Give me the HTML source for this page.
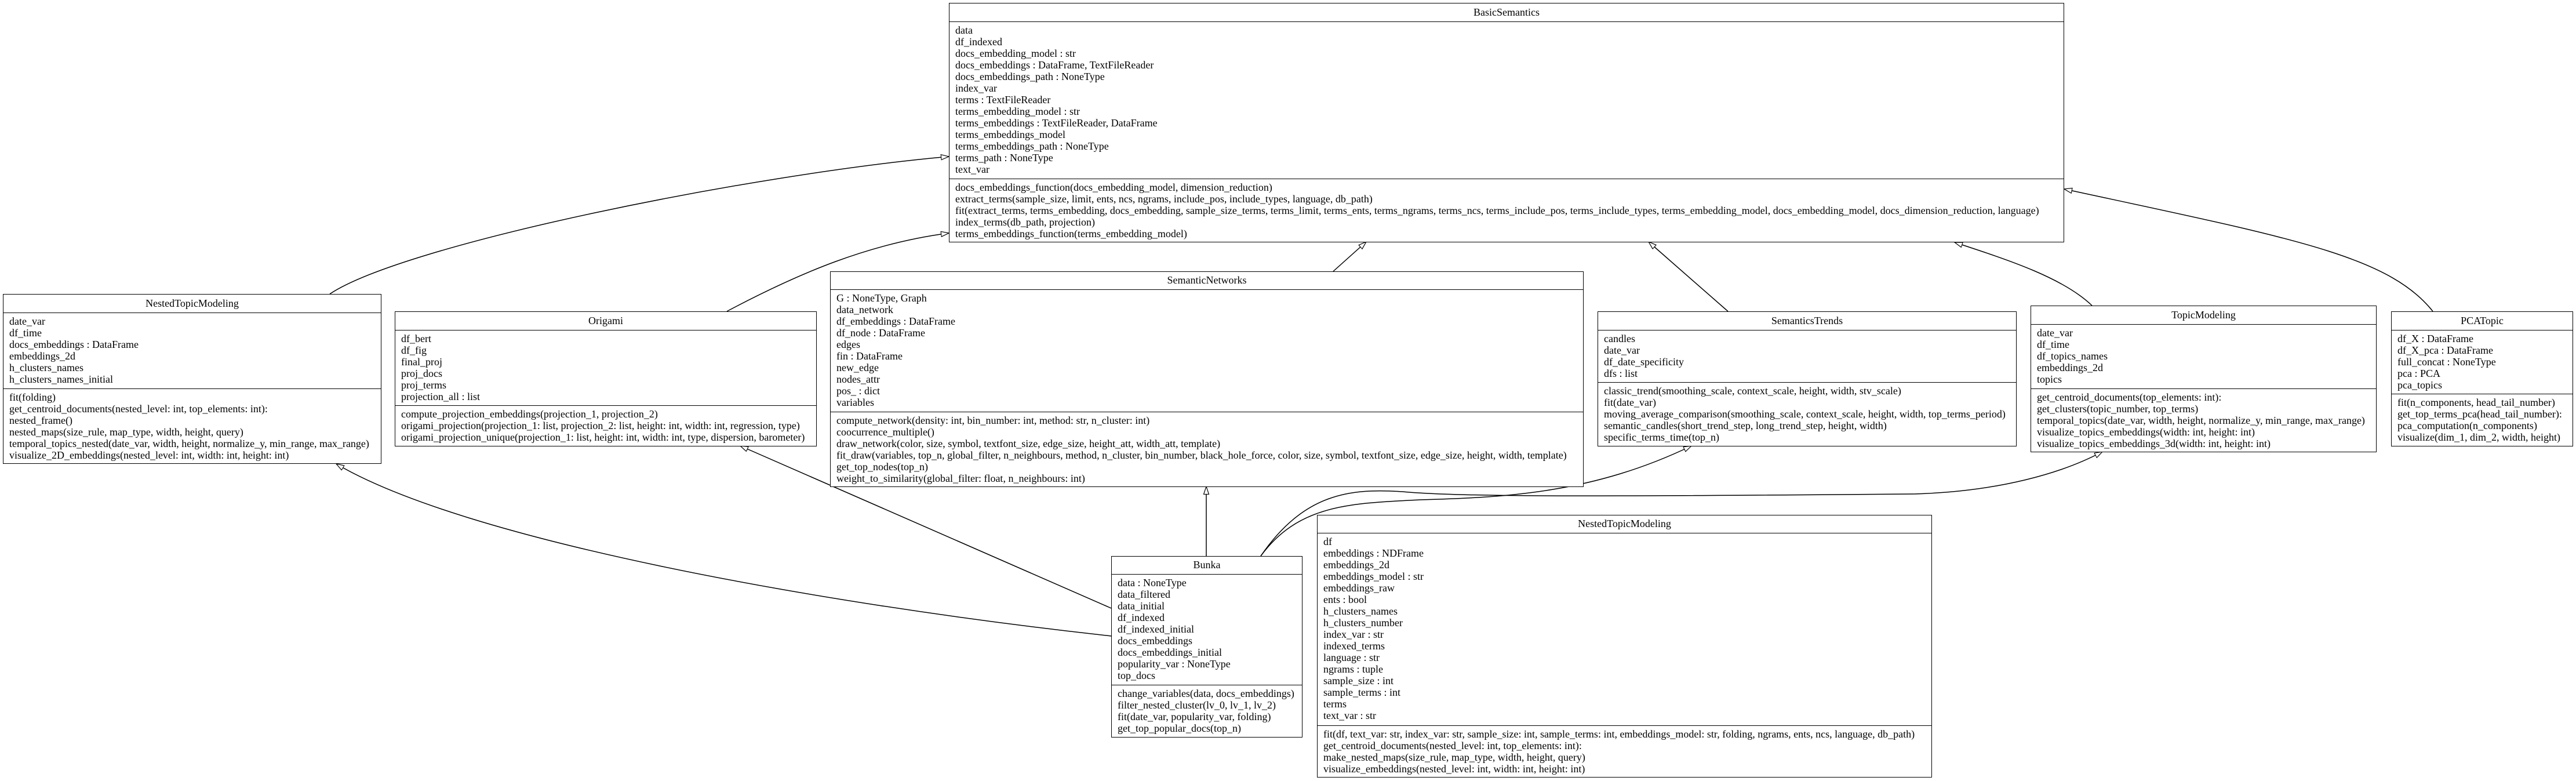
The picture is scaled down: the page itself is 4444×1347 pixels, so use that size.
<!DOCTYPE html>
<html><head><meta charset="utf-8"><style>
html,body{margin:0;padding:0;background:#fff;}
body{width:4444px;height:1347px;position:relative;overflow:hidden;font-family:"Liberation Serif","Times New Roman",serif;font-size:18px;color:#000;}
svg{position:absolute;left:0;top:0;}
.b{position:absolute;border:1.3px solid #000;background:#fff;box-sizing:border-box;}
.h{position:absolute;left:0;right:0;top:0;text-align:center;border-bottom:1.3px solid #000;box-sizing:border-box;}
.a,.m{position:absolute;left:0;right:0;padding:4px 0 0 10px;line-height:20px;white-space:nowrap;box-sizing:border-box;}
.a{border-bottom:1.3px solid #000;}
</style></head><body>
<svg width="4444" height="1347" viewBox="0 0 4444 1347">
<defs><marker id="t" markerUnits="userSpaceOnUse" markerWidth="16" markerHeight="12" refX="14" refY="5" orient="auto"><path d="M0.5,0.5 L14,5 L0.5,9.5 Z" fill="#fff" stroke="#000" stroke-width="1.2"/></marker></defs>
<g fill="none" stroke="#000" stroke-width="1.5">
<path d="M569,507 C700,420 1300,300 1637,270" marker-end="url(#t)"/>
<path d="M1254,537 C1380,470 1500,420 1637,402" marker-end="url(#t)"/>
<path d="M2300,468 L2357,417" marker-end="url(#t)"/>
<path d="M2981,537 L2844,417" marker-end="url(#t)"/>
<path d="M3609,527 C3560,480 3470,450 3372,418" marker-end="url(#t)"/>
<path d="M4197,537 C4120,440 3950,410 3561,326" marker-end="url(#t)"/>
<path d="M2081,959 L2081,839" marker-end="url(#t)"/>
<path d="M1917,1049 L1277,769" marker-end="url(#t)"/>
<path d="M1917,1097 C1400,1040 800,930 580,800" marker-end="url(#t)"/>
<path d="M2175,959 C2240,870 2330,868 2450,862 C2600,858 2750,850 2918,769" marker-end="url(#t)"/>
<path d="M2175,959 C2250,850 2330,842 2420,848 C2520,858 2800,856 3300,852 C3450,848 3560,815 3627,779" marker-end="url(#t)"/>
</g></svg>

<div class="b" style="left:1637px;top:5px;width:1924px;height:413px">
<div class="h" style="height:32px;line-height:30px">BasicSemantics</div>
<div class="a" style="top:32px;height:271px">data<br>df_indexed<br>docs_embedding_model : str<br>docs_embeddings : DataFrame, TextFileReader<br>docs_embeddings_path : NoneType<br>index_var<br>terms : TextFileReader<br>terms_embedding_model : str<br>terms_embeddings : TextFileReader, DataFrame<br>terms_embeddings_model<br>terms_embeddings_path : NoneType<br>terms_path : NoneType<br>text_var</div>
<div class="m" style="top:303px;bottom:0">docs_embeddings_function(docs_embedding_model, dimension_reduction)<br>extract_terms(sample_size, limit, ents, ncs, ngrams, include_pos, include_types, language, db_path)<br>fit(extract_terms, terms_embedding, docs_embedding, sample_size_terms, terms_limit, terms_ents, terms_ngrams, terms_ncs, terms_include_pos, terms_include_types, terms_embedding_model, docs_embedding_model, docs_dimension_reduction, language)<br>index_terms(db_path, projection)<br>terms_embeddings_function(terms_embedding_model)</div>
</div>

<div class="b" style="left:5px;top:507px;width:653px;height:293px">
<div class="h" style="height:32px;line-height:30px">NestedTopicModeling</div>
<div class="a" style="top:32px;height:131px">date_var<br>df_time<br>docs_embeddings : DataFrame<br>embeddings_2d<br>h_clusters_names<br>h_clusters_names_initial</div>
<div class="m" style="top:163px;bottom:0">fit(folding)<br>get_centroid_documents(nested_level: int, top_elements: int):<br>nested_frame()<br>nested_maps(size_rule, map_type, width, height, query)<br>temporal_topics_nested(date_var, width, height, normalize_y, min_range, max_range)<br>visualize_2D_embeddings(nested_level: int, width: int, height: int)</div>
</div>

<div class="b" style="left:681px;top:537px;width:728px;height:233px">
<div class="h" style="height:32px;line-height:30px">Origami</div>
<div class="a" style="top:32px;height:130px">df_bert<br>df_fig<br>final_proj<br>proj_docs<br>proj_terms<br>projection_all : list</div>
<div class="m" style="top:162px;bottom:0">compute_projection_embeddings(projection_1, projection_2)<br>origami_projection(projection_1: list, projection_2: list, height: int, width: int, regression, type)<br>origami_projection_unique(projection_1: list, height: int, width: int, type, dispersion, barometer)</div>
</div>

<div class="b" style="left:1432px;top:468px;width:1300px;height:372px">
<div class="h" style="height:31px;line-height:29px">SemanticNetworks</div>
<div class="a" style="top:31px;height:211px">G : NoneType, Graph<br>data_network<br>df_embeddings : DataFrame<br>df_node : DataFrame<br>edges<br>fin : DataFrame<br>new_edge<br>nodes_attr<br>pos_ : dict<br>variables</div>
<div class="m" style="top:242px;bottom:0">compute_network(density: int, bin_number: int, method: str, n_cluster: int)<br>coocurrence_multiple()<br>draw_network(color, size, symbol, textfont_size, edge_size, height_att, width_att, template)<br>fit_draw(variables, top_n, global_filter, n_neighbours, method, n_cluster, bin_number, black_hole_force, color, size, symbol, textfont_size, edge_size, height, width, template)<br>get_top_nodes(top_n)<br>weight_to_similarity(global_filter: float, n_neighbours: int)</div>
</div>

<div class="b" style="left:2756px;top:537px;width:723px;height:233px">
<div class="h" style="height:32px;line-height:30px">SemanticsTrends</div>
<div class="a" style="top:32px;height:90px">candles<br>date_var<br>df_date_specificity<br>dfs : list</div>
<div class="m" style="top:122px;bottom:0">classic_trend(smoothing_scale, context_scale, height, width, stv_scale)<br>fit(date_var)<br>moving_average_comparison(smoothing_scale, context_scale, height, width, top_terms_period)<br>semantic_candles(short_trend_step, long_trend_step, height, width)<br>specific_terms_time(top_n)</div>
</div>

<div class="b" style="left:3503px;top:527px;width:597px;height:253px">
<div class="h" style="height:32px;line-height:30px">TopicModeling</div>
<div class="a" style="top:32px;height:111px">date_var<br>df_time<br>df_topics_names<br>embeddings_2d<br>topics</div>
<div class="m" style="top:143px;bottom:0">get_centroid_documents(top_elements: int):<br>get_clusters(topic_number, top_terms)<br>temporal_topics(date_var, width, height, normalize_y, min_range, max_range)<br>visualize_topics_embeddings(width: int, height: int)<br>visualize_topics_embeddings_3d(width: int, height: int)</div>
</div>

<div class="b" style="left:4125px;top:537px;width:314px;height:233px">
<div class="h" style="height:32px;line-height:30px">PCATopic</div>
<div class="a" style="top:32px;height:110px">df_X : DataFrame<br>df_X_pca : DataFrame<br>full_concat : NoneType<br>pca : PCA<br>pca_topics</div>
<div class="m" style="top:142px;bottom:0">fit(n_components, head_tail_number)<br>get_top_terms_pca(head_tail_number):<br>pca_computation(n_components)<br>visualize(dim_1, dim_2, width, height)</div>
</div>

<div class="b" style="left:1917px;top:959px;width:330px;height:313px">
<div class="h" style="height:31px;line-height:29px">Bunka</div>
<div class="a" style="top:31px;height:191px">data : NoneType<br>data_filtered<br>data_initial<br>df_indexed<br>df_indexed_initial<br>docs_embeddings<br>docs_embeddings_initial<br>popularity_var : NoneType<br>top_docs</div>
<div class="m" style="top:222px;bottom:0">change_variables(data, docs_embeddings)<br>filter_nested_cluster(lv_0, lv_1, lv_2)<br>fit(date_var, popularity_var, folding)<br>get_top_popular_docs(top_n)</div>
</div>

<div class="b" style="left:2272px;top:888px;width:1061px;height:453px">
<div class="h" style="height:31px;line-height:29px">NestedTopicModeling</div>
<div class="a" style="top:31px;height:332px">df<br>embeddings : NDFrame<br>embeddings_2d<br>embeddings_model : str<br>embeddings_raw<br>ents : bool<br>h_clusters_names<br>h_clusters_number<br>index_var : str<br>indexed_terms<br>language : str<br>ngrams : tuple<br>sample_size : int<br>sample_terms : int<br>terms<br>text_var : str</div>
<div class="m" style="top:363px;bottom:0">fit(df, text_var: str, index_var: str, sample_size: int, sample_terms: int, embeddings_model: str, folding, ngrams, ents, ncs, language, db_path)<br>get_centroid_documents(nested_level: int, top_elements: int):<br>make_nested_maps(size_rule, map_type, width, height, query)<br>visualize_embeddings(nested_level: int, width: int, height: int)</div>
</div>
</body></html>
